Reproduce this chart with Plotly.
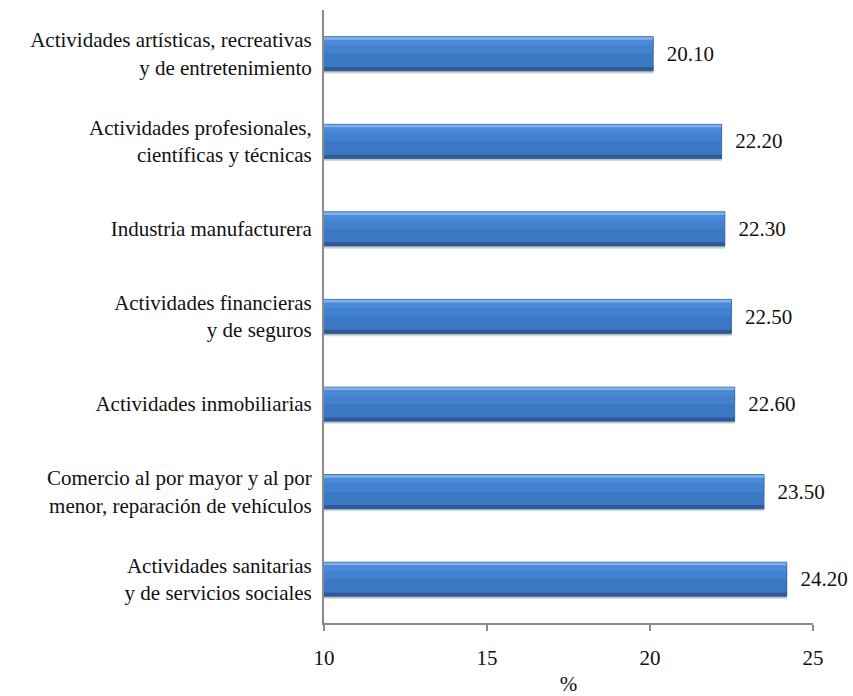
import plotly.graph_objects as go

categories = [
    "Actividades artísticas, recreativas<br>y de entretenimiento",
    "Actividades profesionales,<br>científicas y técnicas",
    "Industria manufacturera",
    "Actividades financieras<br>y de seguros",
    "Actividades inmobiliarias",
    "Comercio al por mayor y al por<br>menor, reparación de vehículos",
    "Actividades sanitarias<br>y de servicios sociales",
]
values = [20.10, 22.20, 22.30, 22.50, 22.60, 23.50, 24.20]
x_ticks = [10, 15, 20, 25]

FONT = "Liberation Serif"
FS = 21
BAR_W = 0.39

fig = go.Figure()


def band(width, offset, color):
    """One horizontal layer of the bevelled bars (offsets measured downward)."""
    fig.add_trace(go.Bar(
        y=categories, x=values, orientation="h",
        width=width, offset=offset,
        marker=dict(color=color, line=dict(width=0)),
        hoverinfo="skip", showlegend=False,
    ))


top = -BAR_W / 2
# soft drop shadow
band(BAR_W, top + 0.03, "rgba(100,100,100,0.25)")
band(BAR_W, top + 0.015, "rgba(100,100,100,0.28)")
# main body
band(BAR_W, top, "#3c77c3")
# lighter upper part
band(BAR_W * 0.50, top, "#4382cf")
band(BAR_W * 0.25, top, "#4a8ad6")
# top highlight edge
band(BAR_W * 0.09, top, "#7fb2ea")
# dark lower edge
band(BAR_W * 0.11, top + BAR_W * 0.89, "#2d5b9a")

# outline and value labels
fig.add_trace(go.Bar(
    y=categories, x=values, orientation="h",
    width=BAR_W, offset=top,
    marker=dict(color="rgba(0,0,0,0)", line=dict(color="#2c5a97", width=0.6)),
    text=[f"{v:.2f}" for v in values],
    texttemplate="  %{text}",
    textposition="outside",
    textfont=dict(family=FONT, size=FS, color="#111"),
    cliponaxis=False,
    hoverinfo="x+y",
    showlegend=False,
))

fig.update_layout(
    width=853, height=696,
    margin=dict(l=324, r=40, t=10, b=73),
    paper_bgcolor="white", plot_bgcolor="white",
    barmode="overlay",
    font=dict(family=FONT, size=FS, color="#111"),
    xaxis=dict(
        range=[10, 25], tickvals=x_ticks,
        automargin=False,
        showgrid=False, zeroline=False,
        showline=True, linecolor="#8a8a8a", linewidth=2,
        ticks="outside", ticklen=6, tickwidth=2, tickcolor="#8a8a8a",
        ticklabelstandoff=9,
        tickfont=dict(family=FONT, size=FS),
        title=dict(text="%", font=dict(family=FONT, size=FS), standoff=10),
    ),
    yaxis=dict(
        autorange="reversed",
        automargin=False,
        showgrid=False, zeroline=False,
        showline=True, linecolor="#8a8a8a", linewidth=2,
        ticks="", ticklabelstandoff=6,
        tickfont=dict(family=FONT, size=FS),
    ),
)

fig.write_html("out.html")
